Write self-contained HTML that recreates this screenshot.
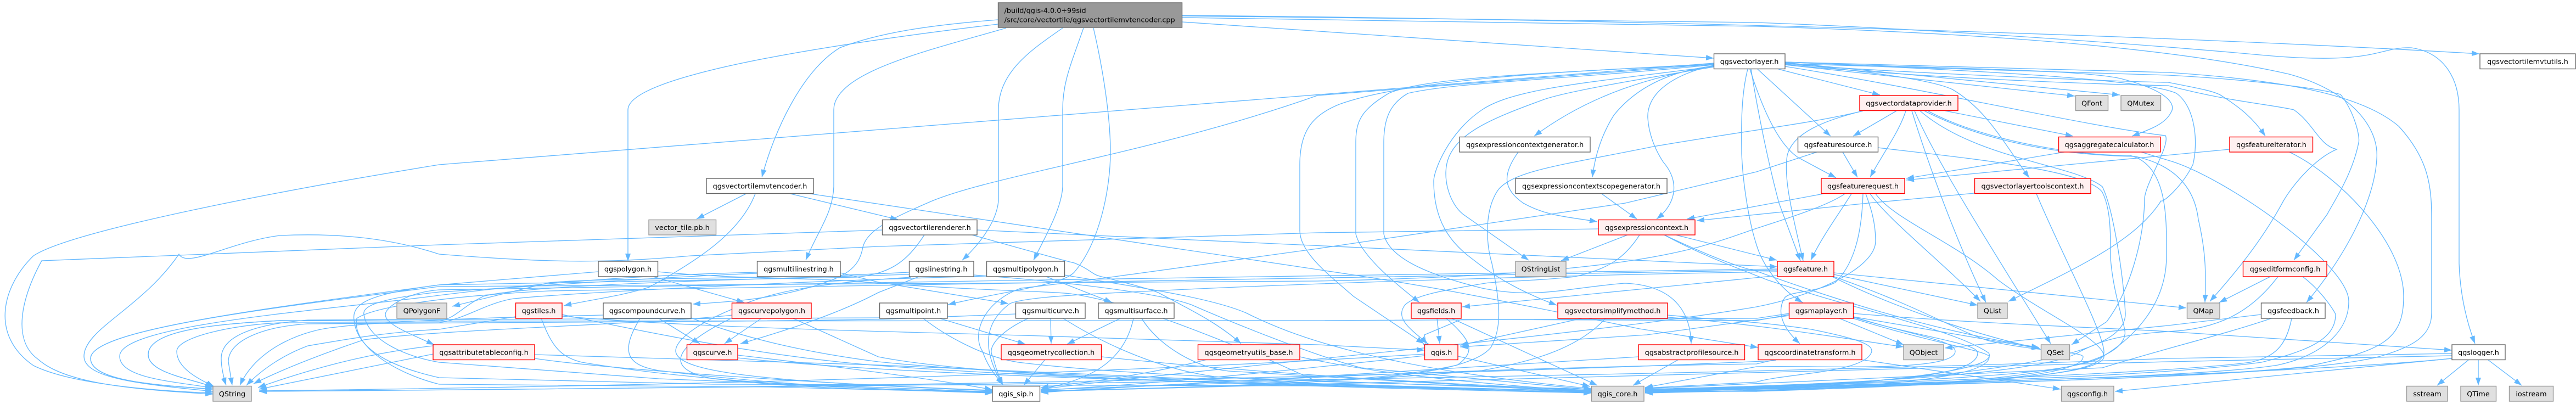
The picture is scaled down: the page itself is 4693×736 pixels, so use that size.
<!DOCTYPE html>
<html lang="en">
<head>
<meta charset="utf-8">
<title>qgsvectortilemvtencoder.cpp include graph</title>
<style>
html,body{margin:0;padding:0;background:#fff;width:4693px;height:736px;overflow:hidden}
svg{display:block}
text{font-family:"DejaVu Sans","Liberation Sans",sans-serif;font-size:12.8px;fill:#000;text-anchor:middle}
.n rect{fill:#fff;stroke:#666;stroke-width:1.4}
.g rect{fill:#e0e0e0;stroke:#999;stroke-width:1.4}
.r rect{fill:#fff0f0;stroke:#f00;stroke-width:1.4}
</style>
</head>
<body>
<svg xmlns="http://www.w3.org/2000/svg" width="4693" height="736" viewBox="0 0 4693 736">
<defs>
<marker id="a" markerUnits="userSpaceOnUse" markerWidth="15" markerHeight="11" refX="14" refY="5" orient="auto"><path d="M0 0L14 5L0 10z" fill="#63b8ff" stroke="none"/></marker>
</defs>
<g fill="none" stroke="#63b8ff" stroke-width="1.33" marker-end="url(#a)">
<!-- root -->
<path d="M2154 40L3122 106"/>
<path d="M2154 28C3000 36 3900 62 4517 98"/>
<path d="M2154 29L3200 41C3500 52 3900 80 4117 100S4330 85 4393 87C4450 95 4480 140 4480 200L4480 480C4482 540 4495 590 4509 626"/>
<path d="M2154 32L3200 48C3600 60 3950 85 4170 135C4280 165 4335 230 4330 290C4325 370 4270 470 4202 551"/>
<path d="M1818 36C1690 46 1600 60 1530 87C1460 130 1410 240 1388 323"/>
<path d="M1818 44C1600 70 1144 130 1144 200L1144 476"/>
<path d="M1833 51C1700 90 1519 130 1519 200L1519 340C1517 390 1490 420 1468 474"/>
<path d="M1936 51C1880 90 1819 130 1819 200L1819 366C1816 400 1790 440 1753 474"/>
<path d="M1974 51C1950 120 1936 150 1936 200L1936 340C1934 380 1905 430 1883 474"/>
<path d="M1992 51C2015 150 2023 230 2023 277C2023 340 2005 440 1957 496C1935 520 1830 530 1727 555"/>
<!-- mvtencoder -->
<path d="M1359 353L1269 399"/>
<path d="M1376 353C1350 420 1280 470 1183 523C1130 540 1080 545 1027 557"/>
<path d="M1440 353L1636 400"/>
<path d="M1476 353L2400 491C2600 520 2700 540 2987 599L3203 633"/>
<!-- renderer -->
<path d="M1608 419L800 446L76 475C40 540 20 620 70 655C120 700 250 710 388 718"/>
<path d="M1780 419L3238 486"/>
<path d="M1684 428C1650 480 1620 498 1560 505L800 519C680 535 640 550 645 583C650 640 720 670 800 688L1300 700L2400 703L2899 712"/>
<path d="M1771 428C1850 450 1920 470 1957 479C1985 490 1990 500 2003 503C2050 515 2090 525 2110 533C2180 570 2220 590 2261 626"/>
<!-- vectorlayer to left -->
<path d="M3122 115L800 300C520 345 130 420 61 466C5 520 -20 610 61 666C130 700 280 712 388 716"/>
<path d="M3122 117L2400 174C2100 280 1800 320 1689 370C1620 400 1580 420 1572 450C1565 490 1540 505 1470 525C1400 545 1330 550 1262 554"/>
<path d="M3122 118C2800 130 2550 150 2440 190C2390 210 2368 240 2368 300L2368 420C2368 460 2420 500 2466 540L2594 626"/>
<path d="M3122 116C2800 135 2600 140 2530 170C2480 200 2470 220 2470 260L2470 426C2480 470 2560 530 2586 551"/>
<path d="M3122 118C2850 145 2650 150 2565 170C2530 190 2521 220 2521 260L2521 426C2530 470 2600 500 2700 525C2800 545 2850 525 2960 516C3060 520 3080 580 3081 626"/>
<path d="M3122 121C2900 150 2760 160 2700 200C2640 240 2612 310 2612 330C2612 400 2640 440 2680 470C2730 510 2780 535 2836 556"/>
<path d="M3122 122C2950 150 2840 170 2808 183C2720 215 2660 240 2640 285C2625 320 2640 370 2665 390L2785 474"/>
<path d="M3122 119C3030 140 3000 180 3002 215C3004 250 3020 280 3030 295C3060 330 3055 370 3018 399"/>
<path d="M3122 120C3010 140 2900 170 2795 248"/>
<path d="M3122 120C3040 130 2980 160 2940 210C2915 250 2905 290 2901 323"/>
<path d="M3184 126C3170 180 3173 250 3173 280C3175 330 3185 400 3200 446C3210 480 3240 525 3284 551"/>
<!-- vectorlayer to bottom/right -->
<path d="M3240 126L3425 173"/>
<path d="M3202 126L3335 248"/>
<path d="M3188 126C3205 180 3235 260 3276 287L3345 324"/>
<path d="M3190 126C3205 220 3225 310 3241 370L3280 475"/>
<path d="M3252 115C3400 130 3520 145 3557 163C3620 200 3650 260 3697 324"/>
<path d="M3252 118L3780 175"/>
<path d="M3252 114L3862 173"/>
<path d="M3252 121C3500 160 3800 230 3945 247C3955 265 3904 340 3907 366C3905 440 3880 530 3838 586L3774 628"/>
<path d="M3252 113C3500 125 3780 125 3863 143C3950 165 3965 190 3955 205C3945 225 3920 235 3884 248"/>
<path d="M3252 113C3500 125 3900 140 3965 170C4000 195 4005 260 3995 300C3975 340 3940 370 3937 366C3890 440 3780 490 3659 549"/>
<path d="M3252 113L3950 132C4150 145 4300 170 4370 230C4425 290 4430 340 4430 400L4430 570C4430 610 4400 630 4340 648C4200 690 3500 700 2997 712"/>
<path d="M3252 116L3950 137C4100 145 4220 160 4264 172C4290 205 4300 250 4297 260C4285 320 4250 370 4240 390L4179 474"/>
<path d="M3252 117C3500 135 3900 150 3950 150C4000 160 4030 165 4045 173C4080 195 4105 215 4127 248"/>
<path d="M3252 118C3600 150 3950 156 3950 156C4060 185 4135 190 4179 200C4215 225 4225 265 4257 272C4215 290 4175 340 4160 366C4120 440 4070 500 4026 549"/>
<!-- provider -->
<path d="M3455 202L3376 248"/>
<path d="M3472 202C3460 240 3430 280 3407 323"/>
<path d="M3544 202L3777 248"/>
<path d="M3394 202C3320 220 3266 243 3256 283C3250 320 3260 370 3285 475"/>
<path d="M3394 202C3300 225 3200 235 3012 267C2850 300 2760 310 2730 345C2705 380 2706 440 2718 480C2735 560 2735 600 2716 633C2690 665 2600 680 2502 689L1896 710"/>
<path d="M3483 202C3510 290 3560 430 3618 551"/>
<path d="M3488 202C3530 300 3640 470 3736 626"/>
<path d="M3498 202C3600 290 3780 300 3830 340C3850 380 3868 500 3872 570C3875 640 3700 680 3200 708L2997 714"/>
<path d="M3512 202C3620 260 3800 285 3880 283C3950 300 3947 400 3947 466C3947 560 3880 620 3830 650C3760 690 3400 695 2997 713"/>
<path d="M3506 202C3620 260 3760 283 3890 285C3960 300 3998 340 4005 400C4019 460 4019 500 4017 551"/>
<!-- feature source / aggregator / iterator / tools -->
<path d="M3357 277L3384 323"/>
<path d="M3310 277L3200 313L2961 370L2400 453C2200 480 2000 510 1860 525C1790 550 1770 610 1790 640C1800 670 1815 685 1827 701"/>
<path d="M3421 269C3600 290 3800 310 3830 350C3845 380 3845 420 3845 470C3850 540 3875 600 3871 610C3860 680 3600 700 3200 713L2997 713"/>
<path d="M3761 277L3473 325"/>
<path d="M4062 272L3473 328"/>
<path d="M3901 277L3950 292C4050 320 4279 480 4279 549C4279 610 4220 650 4150 665C4000 690 3400 700 2997 712"/>
<path d="M4171 277C4260 320 4379 440 4379 540C4379 620 4340 640 4200 668C4000 690 3400 705 2997 714"/>
<path d="M3597 352L3404 370L3091 402"/>
<path d="M3710 353C3750 450 3830 600 3833 640C3835 680 3700 690 3400 705L2997 711"/>
<!-- feature request -->
<path d="M3322 353L3230 370L3073 399"/>
<path d="M3361 353C3330 375 3250 400 3200 416C3100 450 3000 500 2400 512L800 522C500 560 165 600 165 653C165 695 290 702 388 709"/>
<path d="M3373 353C3350 390 3320 430 3299 474"/>
<path d="M3394 353C3392 420 3380 480 3343 515C3300 535 3260 530 3251 543C3235 570 3250 600 3279 626"/>
<path d="M3399 353C3405 370 3417 400 3417 439C3417 490 3300 540 3200 559C2900 610 2300 660 1896 709"/>
<path d="M3407 353C3440 400 3530 470 3608 549"/>
<path d="M3417 353C3450 400 3560 440 3640 510C3720 570 3835 620 3833 650C3830 690 3500 705 2997 716"/>
<!-- context -->
<path d="M2766 277C2735 320 2740 345 2775 370C2820 395 2860 395 2910 404"/>
<path d="M2918 353L2982 399"/>
<path d="M2912 417L2400 424L1600 449L1259 466C1100 480 1000 479 800 463C700 430 600 425 510 429C420 440 340 490 326 463C260 560 153 600 153 649C153 690 260 700 388 713"/>
<path d="M2965 428L2844 475"/>
<path d="M2987 428C2960 470 2930 490 2869 504C2800 512 2730 512 2706 516C2620 530 2578 539 2560 555C2540 580 2570 600 2601 626"/>
<path d="M3053 428L3237 474"/>
<path d="M3032 428C3100 460 3160 485 3200 494C3300 530 3500 600 3715 633"/>
<path d="M3032 428C3100 465 3170 490 3220 510C3400 570 3560 600 3623 643C3640 670 3500 690 3200 713L2997 712"/>
<!-- polygon / linestrings -->
<path d="M1190 504L1356 551"/>
<path d="M1090 495L800 519C500 560 165 600 165 653C165 695 290 702 388 709"/>
<path d="M1198 495C1350 510 1500 505 1600 516C1800 530 1900 530 1950 535C2050 550 2150 590 2300 650L2400 695L2899 709"/>
<path d="M1380 496C1200 500 1000 513 800 538C600 565 218 590 218 649C218 690 320 695 388 707"/>
<path d="M1380 498C1200 505 1000 520 800 532C680 545 660 560 663 573C670 620 740 650 800 660L1200 690L1808 714"/>
<path d="M1531 497L1600 514L1837 553"/>
<path d="M1656 496C1400 510 1100 505 1000 515L824 558"/>
<path d="M1656 500C1300 510 950 520 880 540C840 560 830 580 800 585L510 584C400 590 270 600 270 646C270 680 350 690 388 705"/>
<path d="M1674 504L1600 533C1530 570 1440 600 1349 626"/>
<path d="M1660 505C1500 515 1400 530 1330 565C1270 590 1230 620 1231 640C1235 680 1400 695 1808 712"/>
<path d="M1774 501C1900 510 2100 530 2170 555C2250 590 2400 650 2480 670L2899 710"/>
<path d="M1797 503C1500 510 1000 535 930 545C880 555 850 580 800 588L510 588C420 592 322 615 322 640C322 670 360 690 390 704"/>
<path d="M1906 504L2026 551"/>
<path d="M1939 501C2050 520 2200 540 2270 570C2350 610 2500 670 2899 708"/>
<!-- multi -->
<path d="M1712 580L1868 627"/>
<path d="M1682 580C1720 610 1790 650 1855 660C2100 690 2500 695 2899 712"/>
<path d="M1602 579L561 583C470 590 403 610 403 653C403 670 408 690 412 702"/>
<path d="M1914 580L1915 626"/>
<path d="M1873 580C1830 600 1795 630 1809 650C1815 675 1822 690 1827 701"/>
<path d="M1937 580C2000 620 2100 670 2212 686L2400 699L2899 714"/>
<path d="M1850 572L1600 582L1350 585L560 590C480 595 416 620 416 659L423 702"/>
<path d="M2041 580L1944 627"/>
<path d="M2065 580C2050 650 2000 690 1896 709"/>
<path d="M2080 580C2110 630 2180 670 2238 676L2899 715"/>
<path d="M1904 655L1865 702"/>
<path d="M2007 650C2100 660 2400 690 2899 711"/>
<path d="M2199 655C2100 680 2000 695 1896 706"/>
<path d="M2368 650C2500 680 2700 700 2899 713"/>
<!-- tiles etc -->
<path d="M939 577L800 600C700 605 620 620 561 630C520 645 480 670 449 702"/>
<path d="M986 580C1005 630 1020 650 1060 660C1300 700 1600 710 1808 714"/>
<path d="M1024 573C1200 610 1400 650 1600 666C2000 695 2500 705 2899 715"/>
<path d="M1200 580L1275 626"/>
<path d="M1166 580C1130 640 1140 665 1200 675C1400 700 1600 710 1808 716"/>
<path d="M1259 579C1340 610 1450 640 1600 659C1900 690 2500 700 2899 714"/>
<path d="M1099 574C900 578 700 585 612 596C560 600 470 630 437 702"/>
<path d="M1387 580L1320 626"/>
<path d="M1445 580L1600 650C1800 690 2400 705 2899 716"/>
<path d="M1334 574C1200 590 800 600 663 619C600 640 520 670 462 699"/>
<path d="M1330 581C1250 620 1190 670 1300 690C1500 712 1700 712 1808 713"/>
<path d="M1344 647C1500 665 1700 690 1808 710"/>
<path d="M1344 652C1700 690 2400 700 2899 713"/>
<path d="M974 646L1600 665L2400 700L2899 716"/>
<path d="M974 653C1100 672 1500 700 1808 711"/>
<path d="M789 645L472 709"/>
<path d="M789 630C700 640 600 660 470 706"/>
<path d="M1024 576C1300 600 1700 605 1957 614L2400 628L2595 638"/>
<path d="M3238 490C2900 497 2400 505 1900 510L800 528C740 533 702 560 702 573C702 590 740 605 791 628"/>
<!-- fields / qgis -->
<path d="M2618 580L2623 626"/>
<path d="M2635 580C2680 620 2690 640 2655 665C2500 700 2200 705 1896 713"/>
<path d="M2645 580L2910 702"/>
<path d="M3238 502L2664 559"/>
<path d="M2595 645C2200 670 1500 700 472 712"/>
<path d="M2595 648C2300 680 2100 700 1896 711"/>
<path d="M2656 649L2897 704"/>
<path d="M2882 580L2660 629"/>
<path d="M2925 580C2870 640 2780 660 2700 675C2400 700 2100 708 1896 712"/>
<path d="M3038 574C3150 585 3200 585 3300 600C3400 620 3410 630 3410 640C3400 680 3250 680 3200 696L2997 707"/>
<path d="M3038 578C3200 590 3350 615 3468 632"/>
<path d="M3058 655L2975 702"/>
<path d="M2985 650L2400 686L1896 714"/>
<!-- feature -->
<path d="M3341 497L3983 561"/>
<path d="M3341 500L3603 556"/>
<path d="M3338 504C3450 560 3600 610 3715 635"/>
<path d="M3341 504C3500 560 3560 600 3620 620C3700 640 3795 640 3795 650C3795 690 3500 705 3200 712L2997 715"/>
<path d="M3238 495C2900 500 2400 515 2100 530C2000 535 1870 540 1840 553C1790 590 1790 640 1827 701"/>
<path d="M3238 492C2900 500 2400 507 1900 515L1000 530C800 540 680 560 650 580C640 630 720 680 800 700L1400 705L1808 715"/>
<!-- maplayer -->
<path d="M3351 580L3468 628"/>
<path d="M3376 577L3716 635"/>
<path d="M3376 571C3600 590 3900 600 3950 604L4467 638"/>
<path d="M3376 577C3480 610 3562 620 3562 640C3562 680 3300 665 3200 668L2997 706"/>
<path d="M3376 578C3500 615 3603 625 3603 643C3603 690 3400 695 3200 705L2997 712"/>
<path d="M3376 580C3520 625 3624 640 3624 650C3624 690 3400 705 3200 712L2997 714"/>
<path d="M3260 571L3200 580L2400 584L800 585L510 584C400 590 270 600 270 646C270 680 350 690 388 705"/>
<path d="M3260 573L3200 584L2662 582L2595 610L2600 640"/>
<path d="M3259 575L3000 610L2660 632"/>
<!-- coordinate transform -->
<path d="M3389 655L3754 709"/>
<path d="M3235 655L3200 663C2700 670 2200 695 1896 715"/>
<path d="M3235 657C2500 690 1500 706 472 713"/>
<!-- edit form / feedback -->
<path d="M4136 504L4043 551"/>
<path d="M4150 504C4100 570 4040 600 3950 604C3860 610 3830 620 3790 640C3730 680 3400 700 2997 709"/>
<path d="M4195 504C4230 530 4255 570 4255 573C4255 620 4200 640 4120 660C3900 690 3400 700 2997 711"/>
<path d="M4119 573L3950 593L3543 634"/>
<path d="M4138 580C4050 610 3950 633 3830 670L2997 708"/>
<path d="M4175 580C4165 630 4145 650 4100 660C3950 680 3400 700 2997 710"/>
<!-- logger -->
<path d="M4467 644L3950 653C3000 690 1500 705 472 713"/>
<path d="M4467 648L3950 659C3000 680 2300 700 1896 713"/>
<path d="M4467 653C4200 680 4000 700 3853 713"/>
<path d="M4467 653C4200 680 3500 700 2997 713"/>
<path d="M4498 655L4440 702"/>
<path d="M4515 655L4515 702"/>
<path d="M4532 655L4594 702"/>
</g>

<g class="n"><rect x="1287" y="325" width="195" height="27.5"/><text x="1384.5" y="343.3">qgsvectortilemvtencoder.h</text></g>
<g><rect x="1818.5" y="5" width="335" height="45" fill="#999" stroke="#666" stroke-width="1.4"/><text x="1829.6" y="23.5" style="text-anchor:start">/build/qgis-4.0.0+99sid</text><text x="1829.6" y="40.5" style="text-anchor:start">/src/core/vectortile/qgsvectortilemvtencoder.cpp</text></g>
<g class="n"><rect x="3122.5" y="98" width="129.5" height="27.5"/><text x="3187" y="116.5">qgsvectorlayer.h</text></g>
<g class="n"><rect x="4518" y="98" width="174" height="27.5"/><text x="4605" y="116.5">qgsvectortilemvtutils.h</text></g>
<g class="r"><rect x="3388" y="174" width="179" height="27.5"/><text x="3477.5" y="192.5">qgsvectordataprovider.h</text></g>
<g class="g"><rect x="3781.5" y="174" width="59" height="27.5"/><text x="3811" y="192.5">QFont</text></g>
<g class="g"><rect x="3864" y="174" width="72.5" height="27.5"/><text x="3900" y="192.5">QMutex</text></g>
<g class="n"><rect x="2659" y="249.5" width="238" height="27.5"/><text x="2778" y="268">qgsexpressioncontextgenerator.h</text></g>
<g class="n"><rect x="3275.5" y="249.5" width="146" height="27.5"/><text x="3348.5" y="268">qgsfeaturesource.h</text></g>
<g class="r"><rect x="3750.5" y="249.5" width="185.5" height="27.5"/><text x="3843" y="268">qgsaggregatecalculator.h</text></g>
<g class="r"><rect x="4062" y="249.5" width="151.5" height="27.5"/><text x="4138" y="268">qgsfeatureiterator.h</text></g>
<g class="n"><rect x="2761" y="325" width="276" height="27.5"/><text x="2899" y="343.3">qgsexpressioncontextscopegenerator.h</text></g>
<g class="r"><rect x="3318" y="325" width="152" height="27.5"/><text x="3394" y="343.3">qgsfeaturerequest.h</text></g>
<g class="r"><rect x="3597.5" y="325" width="211.5" height="27.5"/><text x="3703" y="343.3">qgsvectorlayertoolscontext.h</text></g>
<g class="g"><rect x="1182" y="400.5" width="122.5" height="27.5"/><text x="1243" y="419">vector_tile.pb.h</text></g>
<g class="n"><rect x="1607.5" y="400.5" width="172.5" height="27.5"/><text x="1694" y="419">qgsvectortilerenderer.h</text></g>
<g class="r"><rect x="2912" y="400.5" width="176" height="27.5"/><text x="3000" y="419">qgsexpressioncontext.h</text></g>
<g class="n"><rect x="1090" y="476" width="108.5" height="28"/><text x="1144" y="494.5">qgspolygon.h</text></g>
<g class="n"><rect x="1379.5" y="476" width="151.5" height="28"/><text x="1455" y="494.5">qgsmultilinestring.h</text></g>
<g class="n"><rect x="1656.5" y="476" width="117.5" height="28"/><text x="1715" y="494.5">qgslinestring.h</text></g>
<g class="n"><rect x="1797.5" y="476" width="142" height="28"/><text x="1868.5" y="494.5">qgsmultipolygon.h</text></g>
<g class="g"><rect x="2761" y="476" width="92" height="28"/><text x="2807" y="494.5">QStringList</text></g>
<g class="r"><rect x="3238" y="476" width="103" height="28"/><text x="3289.5" y="494.5">qgsfeature.h</text></g>
<g class="r"><rect x="4086.5" y="476" width="152.5" height="28"/><text x="4163" y="494.5">qgseditformconfig.h</text></g>
<g class="g"><rect x="723" y="552" width="91" height="28"/><text x="768.5" y="570.5">QPolygonF</text></g>
<g class="r"><rect x="939.5" y="552" width="84.5" height="28"/><text x="981.5" y="570.5">qgstiles.h</text></g>
<g class="n"><rect x="1099" y="552" width="160" height="28"/><text x="1179" y="570.5">qgscompoundcurve.h</text></g>
<g class="r"><rect x="1333.5" y="552" width="144.5" height="28"/><text x="1406" y="570.5">qgscurvepolygon.h</text></g>
<g class="n"><rect x="1602.5" y="552" width="123.5" height="28"/><text x="1664" y="570.5">qgsmultipoint.h</text></g>
<g class="n"><rect x="1850.5" y="552" width="126.5" height="28"/><text x="1914" y="570.5">qgsmulticurve.h</text></g>
<g class="n"><rect x="2001" y="552" width="138" height="28"/><text x="2070" y="570.5">qgsmultisurface.h</text></g>
<g class="r"><rect x="2571" y="552" width="91" height="28"/><text x="2616.5" y="570.5">qgsfields.h</text></g>
<g class="r"><rect x="2838" y="552" width="200" height="28"/><text x="2938" y="570.5">qgsvectorsimplifymethod.h</text></g>
<g class="r"><rect x="3259.5" y="552" width="117" height="28"/><text x="3318" y="570.5">qgsmaplayer.h</text></g>
<g class="g"><rect x="3603" y="552" width="54" height="28"/><text x="3630" y="570.5">QList</text></g>
<g class="g"><rect x="3984.5" y="552" width="59.5" height="28"/><text x="4014" y="570.5">QMap</text></g>
<g class="n"><rect x="4119.5" y="552" width="116.5" height="28"/><text x="4178" y="570.5">qgsfeedback.h</text></g>
<g class="r"><rect x="789" y="628" width="185" height="27.5"/><text x="881.5" y="646.3">qgsattributetableconfig.h</text></g>
<g class="r"><rect x="1251.5" y="628" width="92.5" height="27.5"/><text x="1298" y="646.3">qgscurve.h</text></g>
<g class="r"><rect x="1824" y="628" width="182.5" height="27.5"/><text x="1915" y="646.3">qgsgeometrycollection.h</text></g>
<g class="r"><rect x="2182.5" y="628" width="185.5" height="27.5"/><text x="2275" y="646.3">qgsgeometryutils_base.h</text></g>
<g class="r"><rect x="2595.5" y="628" width="60.5" height="27.5"/><text x="2626" y="646.3">qgis.h</text></g>
<g class="r"><rect x="2985" y="628" width="193.5" height="27.5"/><text x="3082" y="646.3">qgsabstractprofilesource.h</text></g>
<g class="r"><rect x="3203" y="628" width="189" height="27.5"/><text x="3297.5" y="646.3">qgscoordinatetransform.h</text></g>
<g class="g"><rect x="3468" y="628" width="73" height="27.5"/><text x="3504.5" y="646.3">QObject</text></g>
<g class="g"><rect x="3718.5" y="628" width="52" height="27.5"/><text x="3744.5" y="646.3">QSet</text></g>
<g class="n"><rect x="4467" y="628" width="97" height="27.5"/><text x="4515.5" y="646.3">qgslogger.h</text></g>
<g class="g"><rect x="388" y="703.5" width="70" height="27.5"/><text x="423" y="722">QString</text></g>
<g class="n"><rect x="1808" y="703.5" width="86.5" height="27.5"/><text x="1851" y="722">qgis_sip.h</text></g>
<g class="g"><rect x="2899.5" y="703.5" width="95.5" height="27.5"/><text x="2947" y="722">qgis_core.h</text></g>
<g class="g"><rect x="3755.5" y="703.5" width="95.5" height="27.5"/><text x="3803" y="722">qgsconfig.h</text></g>
<g class="g"><rect x="4384.5" y="703.5" width="74.5" height="27.5"/><text x="4422" y="722">sstream</text></g>
<g class="g"><rect x="4483" y="703.5" width="64.5" height="27.5"/><text x="4515" y="722">QTime</text></g>
<g class="g"><rect x="4571.5" y="703.5" width="80" height="27.5"/><text x="4611.5" y="722">iostream</text></g>
</svg>
</body>
</html>
